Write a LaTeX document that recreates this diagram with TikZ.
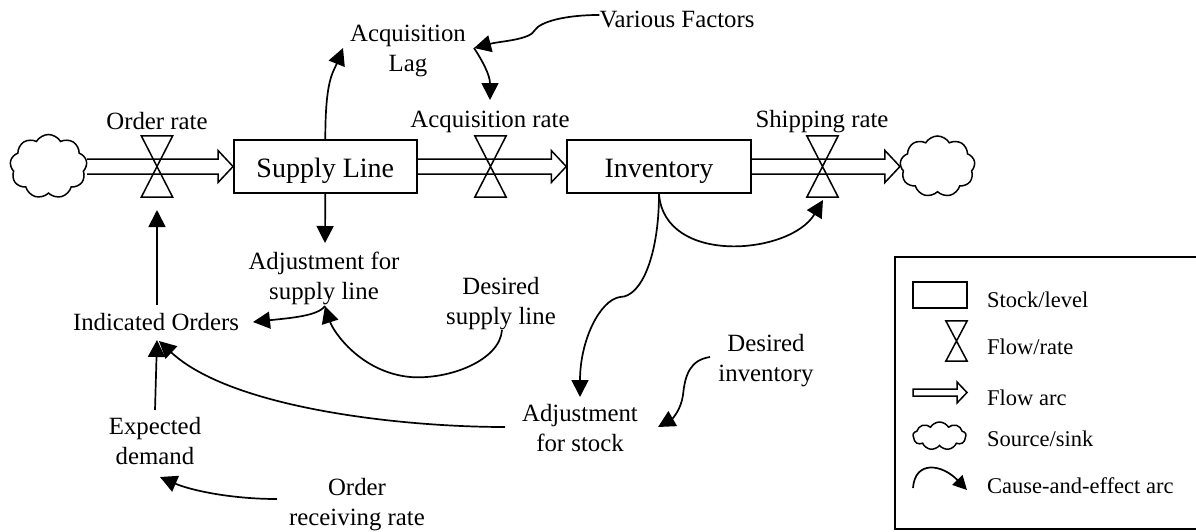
\documentclass[tikz,border=0pt]{standalone}
\usepackage{fontspec}
\setmainfont{Liberation Serif}
\usetikzlibrary{arrows.meta,shapes.symbols,calc}

% outlined flow pipe with an open tail, from the first point to the second
\newcommand{\flowpipe}[2]{%
  \draw[flowline] let \p1=(#1), \p2=(#2) in
    (\x1,\y1+7.5pt) -- (\x2-15pt,\y1+7.5pt) -- (\x2-15pt,\y1+16pt) -- (\x2,\y1)
    -- (\x2-15pt,\y1-16pt) -- (\x2-15pt,\y1-7.5pt) -- (\x1,\y1-7.5pt);}
% hourglass valve drawn on a named box
\newcommand{\valveof}[1]{%
  \draw[valveline] (#1.north west) -- (#1.north east) -- (#1.south west)
    -- (#1.south east) -- cycle;}

\begin{document}
\begin{tikzpicture}[x=1pt,y=-1pt,
  lbl/.style={font=\fontsize{24.8}{30}\selectfont, inner sep=0pt, align=center},
  lgd/.style={font=\fontsize{22.5}{27}\selectfont, inner sep=0pt, anchor=base west},
  stock/.style={draw, line width=1.5pt, minimum width=183pt, minimum height=53pt,
    inner sep=0pt, font=\fontsize{28}{33}\selectfont, text height=21pt, text depth=0pt},
  valvebox/.style={minimum width=31pt, minimum height=61pt, inner sep=0pt},
  valveline/.style={line width=1.5pt, line join=miter},
  flowline/.style={line width=1.5pt, line join=miter},
  cloudsrc/.style={cloud, cloud puffs=9, cloud puff arc=120, cloud ignores aspect,
    draw, line width=1.5pt, inner sep=0pt},
  causal/.style={line width=1.7pt, -{Triangle[length=17pt,width=17pt]}}
]
\fill[white] (0,0) rectangle (1196,531);
\useasboundingbox (0,0) rectangle (1196,531);

% ---- stocks, valves, source and sink
\node[cloudsrc, minimum width=77pt, minimum height=64pt] (srcL) at (48.5,166.5) {};
\node[cloudsrc, minimum width=75pt, minimum height=61pt] (sinkR) at (937.5,166.5) {};
\node[stock] (sl) at (325.3,166.5) {Supply Line};
\node[stock, minimum width=184pt] (inv) at (659,166.5) {Inventory};
\node[valvebox] (vOrder) at (157,166.5) {};
\node[valvebox] (vAcq) at (490.5,166.5) {};
\node[valvebox] (vShip) at (822.5,166.5) {};

\flowpipe{srcL.east}{sl.west}
\flowpipe{sl.east}{inv.west}
\flowpipe{inv.east}{sinkR.west}
\valveof{vOrder}
\valveof{vAcq}
\valveof{vShip}

% ---- variable labels
\node[lbl, anchor=base] (lOrder) at (157,129) {Order rate};
\node[lbl, anchor=base] (lAcq) at (490,127) {Acquisition rate};
\node[lbl, anchor=base] (lShip) at (822,127) {Shipping rate};
\node[lbl, anchor=base] (vf) at (677,27) {Various Factors};
\node[lbl] (lag) at (408,51) {Acquisition\\Lag};
\node[lbl] (adjSL) at (324,278) {Adjustment for\\supply line};
\node[lbl] (dSL) at (501,304) {Desired\\supply line};
\node[lbl, anchor=base] (io) at (156,330) {Indicated Orders};
\node[lbl] (ed) at (155,441) {Expected\\demand};
\node[lbl] (orr) at (357,505) {Order\\receiving rate};
\node[lbl] (adjS) at (580,428) {Adjustment\\for stock};
\node[lbl] (dInv) at (766,361) {Desired\\inventory};

% ---- connector ends
\coordinate (lagSW) at (343,48);
\coordinate (lagE) at (474,48);
\coordinate (acqTop) at (490,100);
\coordinate (adjSLtop) at (325,243);
\coordinate (adjSLbot) at (325,306);
\coordinate (ioR) at (253,322);
\coordinate (ioTop) at (157,305);
\coordinate (vOrderIn) at (157,210);
\coordinate (ioBot) at (157,340);
\coordinate (ioBotR) at (159,341);
\coordinate (edTop) at (155,410);
\coordinate (edR) at (160,477);
\coordinate (orrL) at (277,499);
\coordinate (dSLbot) at (502,330);
\coordinate (adjSW) at (505,427);
\coordinate (adjStop) at (580,397);
\coordinate (adjSR) at (658,427);
\coordinate (dInvL) at (710,357);
\coordinate (vShipIn) at (823,200);

% ---- cause-and-effect arcs
\draw[causal] (sl.north) .. controls +(0,-60) and +(-10,25) .. (lagSW);
\draw[causal] ([yshift=4pt]vf.west) .. controls +(-35,0) and +(5,-8) .. (535,30)
  .. controls +(-5,10) and +(27,-7) .. (lagE);
\draw[causal] (lagE) .. controls +(8,12) and +(0,-25) .. (acqTop);
\draw[causal] (sl.south) -- (adjSLtop);
\draw[causal] (adjSLbot) .. controls +(-7,10) and +(37,-4) .. (ioR);
\draw[causal] (dSLbot) .. controls +(-2,30) and +(40,3) .. (410,377)
  .. controls +(-50,-5) and +(8,25) .. (adjSLbot);
\draw[causal] (ioTop) -- (vOrderIn);
\draw[causal] (edTop) -- (ioBot);
\draw[causal] (adjSW) .. controls +(-105,0) and +(72,67) .. (ioBotR);
\draw[causal] (orrL) .. controls +(-47,0) and +(30,13) .. (edR);
\draw[causal] (inv.south) .. controls +(5,72) and +(-33,55) .. (vShipIn);
\draw[causal] (inv.south) .. controls +(0,60) and +(22,0) .. (620,297)
  .. controls +(-20,3) and +(0,-57) .. (adjStop);
\draw[causal] (dInvL) .. controls +(-20,3) and +(2,-20) .. (683,395)
  .. controls +(-2,15) and +(14,-8) .. (adjSR);

% ---- legend (its right side runs past the page edge)
\node[draw, line width=1.5pt, minimum width=303pt, minimum height=272pt, inner sep=0pt]
  (legend) at (1046.5,393.2) {};
\node[draw, line width=1.5pt, minimum width=54pt, minimum height=26pt, inner sep=0pt]
  (kStock) at (940,295) {};
\node[valvebox, minimum width=21pt, minimum height=40pt] (kValve) at (956.5,341) {};
\valveof{kValve}
\coordinate (kFlowL) at (913,392.5);
\coordinate (kFlowR) at (967,392.5);
\draw[flowline] let \p1=(kFlowL), \p2=(kFlowR) in
  (\x1,\y1+3.5pt) -- (\x2-10pt,\y1+3.5pt) -- (\x2-10pt,\y1+10.5pt) -- (\x2,\y1)
  -- (\x2-10pt,\y1-10.5pt) -- (\x2-10pt,\y1-3.5pt) -- (\x1,\y1-3.5pt) -- cycle;
\node[cloudsrc, minimum width=53pt, minimum height=28pt] (kCloud) at (939.5,436) {};
\coordinate (kArcA) at (913,488);
\coordinate (kArcB) at (967,490);
\draw[line width=1.7pt, -{Triangle[length=14pt,width=14pt]}] (kArcA)
  .. controls +(2,-28) and +(-25,-26) .. (kArcB);

\node[lgd] (tStock) at (987,307) {Stock/level};
\node[lgd] (tValve) at (987,354) {Flow/rate};
\node[lgd] (tFlow) at (987,405) {Flow arc};
\node[lgd] (tCloud) at (987,446.7) {Source/sink};
\node[lgd] (tArc) at (987,493) {Cause-and-effect arc};
\end{tikzpicture}
\end{document}
